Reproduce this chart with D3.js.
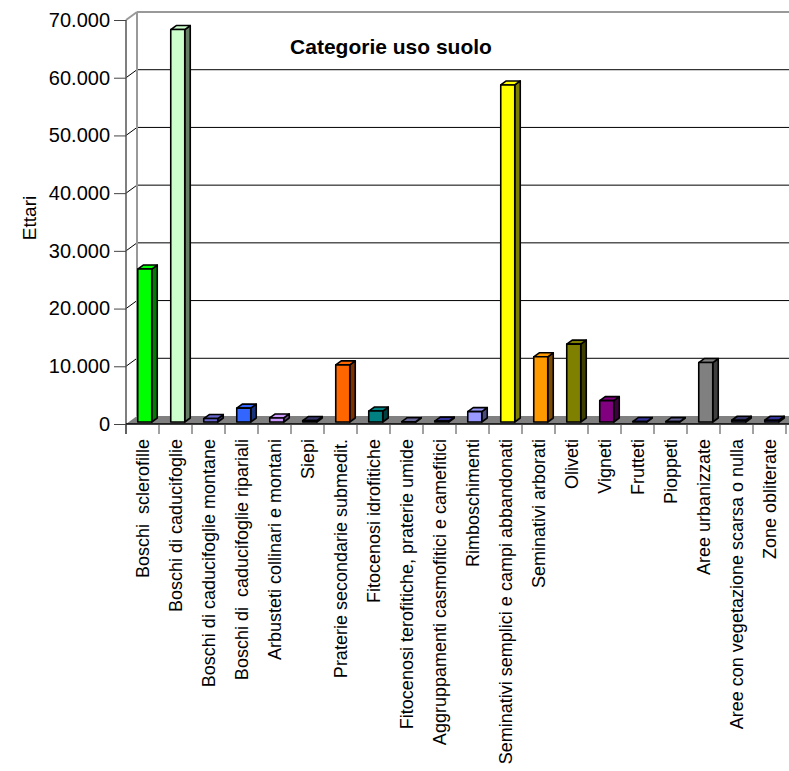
<!DOCTYPE html>
<html>
<head>
<meta charset="utf-8">
<script src="https://cdn.jsdelivr.net/npm/d3@7/dist/d3.min.js"></script>
<style>
  html, body { margin: 0; padding: 0; background: #fff; }
  svg { display: block; font-family: Arial, "Liberation Sans", sans-serif; }
</style>
</head>
<body>
<svg id="chart" width="789" height="771"></svg>
<script>
// Land-use categories (hectares)
const categories = [
  "Boschi  sclerofille",
  "Boschi di caducifoglie",
  "Boschi di caducifoglie montane",
  "Boschi di  caducifoglie ripariali",
  "Arbusteti collinari e montani",
  "Siepi",
  "Praterie secondarie submedit.",
  "Fitocenosi idrofitiche",
  "Fitocenosi terofitiche, praterie umide",
  "Aggruppamenti casmofitici e camefitici",
  "Rimboschimenti",
  "Seminativi semplici e campi abbandonati",
  "Seminativi arborati",
  "Oliveti",
  "Vigneti",
  "Frutteti",
  "Pioppeti",
  "Aree urbanizzate",
  "Aree con vegetazione scarsa o nulla",
  "Zone obliterate"
];
const values = [
  26500, 68000, 600, 2400, 700, 250, 9900, 1900, 50, 150,
  1800, 58400, 11300, 13500, 3700, 80, 60, 10300, 300, 300
];
const colors = [
  "#00ff00", "#ccffcc", "#6666cc", "#3366ff", "#cc99ff", "#333366", "#ff6600", "#008080", "#666699", "#333399",
  "#9999ff", "#ffff00", "#ff9900", "#808000", "#800080", "#333399", "#666699", "#808080", "#333366", "#333399"
];
const yTicks = [0, 10000, 20000, 30000, 40000, 50000, 60000, 70000];
const yTickLabels = ["0", "10.000", "20.000", "30.000", "40.000", "50.000", "60.000", "70.000"];
const chartTitle = "Categorie uso suolo";
const yTitle = "Ettari";

const FONT = "Arial, 'Liberation Sans', sans-serif";
const svg = d3.select("#chart");

// Plot geometry: front plane and the depth offset of the back wall
const left = 126, right = 786, yFront0 = 424, yFrontTop = 20;
const depth = { dx: 11, dy: -8 };

const x = d3.scaleBand().domain(categories).range([left, right]).padding(0);
const y = d3.scaleLinear().domain([0, 70000]).range([yFront0, yFrontTop]);

const g = svg.append("g");

// Floor slab
g.append("polygon")
  .attr("points", [[left, yFront0], [left + depth.dx, yFront0 + depth.dy], [right + 40, yFront0 + depth.dy], [right + 40, yFront0]].join(" "))
  .attr("fill", "#808080");

// Back-wall gridlines with their short diagonals across the side wall
yTicks.forEach((t, i) => {
  const yb = y(t) + depth.dy;
  const isTop = i === yTicks.length - 1;
  if (t > 0) {
    g.append("line")
      .attr("x1", left + depth.dx).attr("x2", 800)
      .attr("y1", yb).attr("y2", yb)
      .attr("stroke", isTop ? "#999" : "#000")
      .attr("stroke-width", isTop ? 2 : 1);
    g.append("line")
      .attr("x1", left).attr("y1", y(t))
      .attr("x2", left + depth.dx).attr("y2", yb)
      .attr("stroke", isTop ? "#999" : "#000")
      .attr("stroke-width", isTop ? 2 : 1);
  }
});

// Back wall left edge
g.append("line")
  .attr("x1", left + depth.dx).attr("x2", left + depth.dx)
  .attr("y1", y(70000) + depth.dy).attr("y2", y(0) + depth.dy)
  .attr("stroke", "#999").attr("stroke-width", 2);

// Bars drawn as boxes: front, top and side faces
const barOff = { dx: 2.75, dy: -2 };
const barDepth = { dx: 5.5, dy: -4 };
const barW = 14;
const bars = g.append("g");
categories.forEach((c, i) => {
  const v = values[i];
  const x0 = x(c) + 9 + barOff.dx;
  const yt = y(v) + barOff.dy;
  const yb = y(0) + barOff.dy;
  const col = colors[i];
  const side = d3.color(col).darker(2).toString();
  const bg = bars.append("g").attr("stroke", "#000").attr("stroke-width", 1.6).attr("stroke-linejoin", "round");
  bg.append("polygon")
    .attr("points", [[x0 + barW, yt], [x0 + barW + barDepth.dx, yt + barDepth.dy], [x0 + barW + barDepth.dx, yb + barDepth.dy], [x0 + barW, yb]].join(" "))
    .attr("fill", side);
  bg.append("polygon")
    .attr("points", [[x0, yt], [x0 + barDepth.dx, yt + barDepth.dy], [x0 + barW + barDepth.dx, yt + barDepth.dy], [x0 + barW, yt]].join(" "))
    .attr("fill", col);
  bg.append("rect")
    .attr("x", x0).attr("y", yt)
    .attr("width", barW).attr("height", Math.max(0, yb - yt))
    .attr("fill", col);
});

// Front axes
const yAxis = d3.axisLeft(y).tickValues(yTicks).tickFormat((d, i) => yTickLabels[i]).tickSize(12).tickPadding(4);
const ya = svg.append("g").attr("transform", `translate(${left},0)`).call(yAxis);
ya.attr("font-size", null).attr("font-family", null);
ya.select(".domain").attr("d", `M0,${yFrontTop}V${yFront0 + 10}`).attr("stroke", "#555").attr("stroke-width", 1.5);
ya.selectAll(".tick line").attr("stroke", "#444");
ya.selectAll(".tick text").attr("fill", "#000")
  .style("font-size", "20px").style("font-family", FONT);

const xAxis = d3.axisBottom(x).tickSize(0).tickFormat(d => d);
const xa = svg.append("g").attr("transform", `translate(0,${yFront0})`).call(xAxis);
xa.attr("font-size", null).attr("font-family", null);
xa.select(".domain").attr("d", `M${left},0H${800}`).attr("stroke", "#000").attr("stroke-width", 1.5);
xa.selectAll(".tick text")
  .attr("fill", "#000")
  .style("font-size", "18px").style("font-family", FONT)
  .attr("text-anchor", "end")
  .attr("dy", "0.35em")
  .attr("transform", "translate(0,15) rotate(-90)")
  .attr("x", 0).attr("y", 0)
  .style("white-space", "pre");
// Category separators
categories.concat([null]).forEach((c, i) => {
  const xx = left + i * x.bandwidth();
  svg.append("line").attr("x1", xx).attr("x2", xx)
    .attr("y1", yFront0).attr("y2", yFront0 + 10)
    .attr("stroke", "#444").attr("stroke-width", 1);
});

// Titles
svg.append("text")
  .attr("x", 391).attr("y", 54)
  .attr("text-anchor", "middle")
  .style("font-size", "21px").attr("font-weight", "bold")
  .text(chartTitle);

svg.append("text")
  .attr("transform", "translate(36,218) rotate(-90)")
  .attr("text-anchor", "middle")
  .style("font-size", "19px")
  .text(yTitle);
</script>
</body>
</html>
